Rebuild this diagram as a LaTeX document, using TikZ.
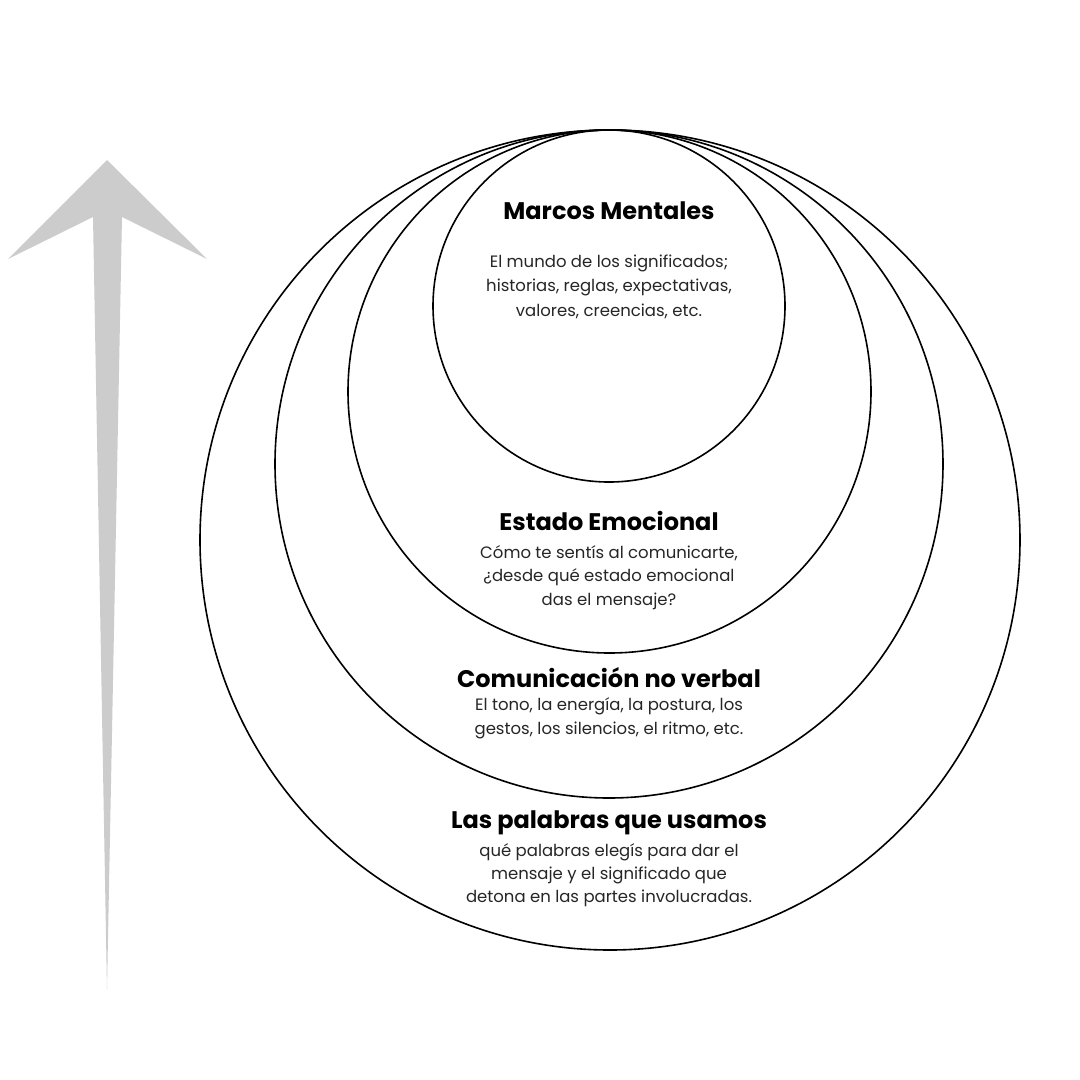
\documentclass[tikz,border=0pt]{standalone}
\usepackage{fontspec}
\setmainfont{Poppins}
\begin{document}
\begin{tikzpicture}[x=1pt,y=-1pt,
  ring/.style={draw=black,line width=1.6pt,circle,inner sep=0pt,fill=none},
  ttl/.style={font=\fontsize{24}{26}\selectfont\bfseries,inner sep=0pt,anchor=center},
  body/.style={font=\fontsize{16.5}{24}\selectfont,inner sep=0pt,anchor=center,align=center,text=black!85}]
\useasboundingbox[fill=white] (0,0) rectangle (1080,1080);
% arrow
\fill[fill=black!20] (107,160) -- (207,259) -- (122,217) -- (107,990) -- (93,217) -- (8,259) -- cycle;
% rings
\node[ring,minimum size=820pt] (c1) at (610,540) {};
\node[ring,minimum size=668pt] (c2) at (609,464) {};
\node[ring,minimum size=523pt] (c3) at (609.5,391.5) {};
\node[ring,minimum size=352pt] (c4) at (609,306) {};
% texts
\node[ttl] (t4) at (609,211) {Marcos Mentales};
\node[body] (b4a) at (609,263) {El mundo de los significados;};
\node[body] (b4b) at (609,287) {historias, reglas, expectativas,};
\node[body] (b4c) at (609,311) {valores, creencias, etc.};
\node[ttl] (t3) at (609,521) {Estado Emocional};
\node[body] (b3a) at (609,553) {Cómo te sentís al comunicarte,};
\node[body] (b3b) at (609,577) {¿desde qué estado emocional};
\node[body] (b3c) at (609,601) {das el mensaje?};
\node[ttl] (t2) at (609,678) {Comunicación no verbal};
\node[body] (b2a) at (609,706) {El tono, la energía, la postura, los};
\node[body] (b2b) at (609,730) {gestos, los silencios, el ritmo, etc.};
\node[ttl] (t1) at (609,823) {Las palabras que usamos};
\node[body] (b1a) at (609,852) {qué palabras elegís para dar el};
\node[body] (b1b) at (609,875) {mensaje y el significado que};
\node[body] (b1c) at (609,898) {detona en las partes involucradas.};
\end{tikzpicture}
\end{document}
